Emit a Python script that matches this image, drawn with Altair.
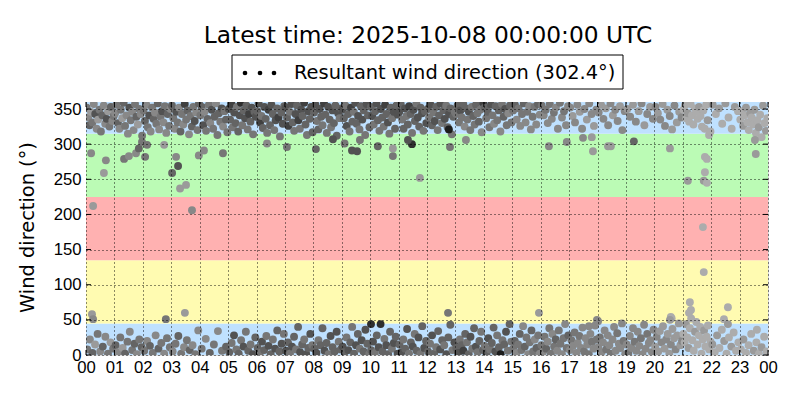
import altair as alt
import pandas as pd

# ---------------- data ----------------
title_text = "Latest time: 2025-10-08 00:00:00 UTC"
legend_text = "Resultant wind direction (302.4°)"
y_title_text = "Wind direction (°)"

band_lo = [0, 45, 135, 225, 315]
band_hi = [45, 135, 225, 315, 360]
band_col = ["#bfe1ff", "#fffbb1", "#ffb1b1", "#bbfbb5", "#bfe1ff"]

x_ticks = list(range(25))
y_ticks = [0, 50, 100, 150, 200, 250, 300, 350]

# dense northerly cluster (dir/shade), one string per hour
top_00_05 = [
    "352/5 338/6 327/4 346/7 331/5 357/6 343/3 322/6 335/7 349/5 318/5 341/4 355/6 329/6 336/3 347/7 325/5 353/4 333/6 340/5",
    "344/6 356/5 330/4 322/6 349/5 337/7 359/4 326/5 341/6 315/6 352/3 334/5 346/6 320/6 357/5 339/4 328/7 350/5 343/6 312/5",
    "348/5 333/4 356/6 324/5 341/3 318/6 352/5 336/4 345/6 329/5 358/4 321/6 339/5 347/3 331/6 354/5 316/6 343/4 326/5 350/6",
    "355/4 337/5 322/6 346/3 331/5 352/6 318/4 343/5 328/6 357/2 335/5 348/4 314/6 340/5 325/4 353/5 333/3 345/6 320/5 358/4",
    "341/5 353/4 327/3 346/6 319/5 336/4 356/5 330/6 349/3 322/5 339/4 358/6 313/5 344/4 332/5 351/3 325/6 347/5 335/4 317/5",
    "350/3 335/4 357/2 324/5 345/3 330/4 353/5 318/4 341/3 359/1 327/5 348/4 337/3 355/4 321/5 343/2 332/4 352/3 314/5 346/4 339/3",
]
top_06_11 = [
    "347/4 358/3 331/2 340/5 323/4 353/3 336/4 316/5 349/2 327/4 356/3 343/4 320/5 334/3 351/4 338/2 311/5 345/4 329/3 354/4",
    "352/3 338/4 326/2 346/5 357/3 331/4 319/5 343/3 355/4 334/2 322/5 349/3 340/4 359/2 328/4 313/5 347/3 336/4 353/3 317/4",
    "345/4 356/3 333/5 321/4 350/3 339/4 327/5 358/2 342/4 316/5 353/3 335/4 324/5 348/3 330/4 355/4 312/4 344/3 337/5 351/4",
    "349/3 337/4 355/5 326/3 343/4 318/5 352/2 332/4 346/5 359/3 329/4 340/3 321/5 354/4 335/3 348/4 313/5 357/3 341/4 324/4",
    "353/4 340/3 328/5 347/4 358/3 334/4 319/5 350/3 338/4 325/5 356/2 343/4 331/3 315/5 352/4 337/5 346/3 322/4 355/4 342/3",
    "346/3 357/4 335/5 322/4 351/3 340/5 328/4 354/2 343/4 316/5 349/3 333/4 358/5 338/3 325/4 352/4 344/3 319/5 347/4 330/3",
]
top_12_17 = [
    "350/4 338/5 356/3 327/4 345/5 333/3 353/4 320/5 341/4 358/3 330/5 348/4 336/3 355/5 324/4 343/3 351/4 314/5 339/4 346/5",
    "343/5 355/4 331/5 348/3 338/5 357/4 325/6 351/4 335/5 346/3 320/5 353/5 340/4 328/5 356/4 344/5 332/4 349/5 317/6 359/2",
    "352/4 337/5 346/4 324/5 356/3 341/5 329/6 354/4 334/5 348/4 318/6 357/5 339/4 350/3 327/5 344/6 355/4 331/5",
    "348/5 356/4 335/6 351/5 326/6 343/5 358/4 331/6 346/5 354/6 321/6 339/5 353/5 328/6 357/4 342/6",
    "355/5 341/6 349/5 330/6 357/5 336/6 345/5 352/6 322/6 359/5 338/6 347/5 327/6 354/6",
    "352/6 340/7 331/6 356/6 346/7 322/6 350/6 335/7 358/6 343/6 326/7 349/6",
]
top_18_23 = [
    "345/6 356/7 336/6 351/7 327/6 358/6 341/7 349/6 333/6 354/7 320/6 347/6",
    "350/7 339/6 356/7 332/6 347/7 358/6 327/7 343/6 353/7 336/6",
    "353/6 344/7 335/6 357/7 326/6 349/7 340/6 321/7 355/6 331/7 346/7 338/6",
    "349/8 355/8 337/8 344/7 332/8 357/8 341/8 328/8 351/8 346/8 336/8 353/7 340/8 325/8 348/8 322/8 356/8 334/7 313/8 318/8",
    "356/7 343/8 351/7 329/8 358/7 338/8 322/8 353/7 347/8",
    "335/8 347/8 326/7 341/8 352/7 331/8 320/8 344/7 338/8 328/8 349/7 316/8 334/8 324/7 342/8 310/8 355/7 330/8 319/7 337/8",
]

# dense north-north-easterly cluster near 0 deg
low_00_05 = [
    "8/5 22/6 3/4 15/7 30/5 5/6 12/4 26/6 2/5 18/7 9/5",
    "14/4 4/6 25/5 10/7 2/4 19/5 33/6 7/5 16/4 1/6 22/5 11/4",
    "6/5 20/6 13/4 3/5 28/6 9/4 17/5 2/6 24/5 11/5",
    "5/6 16/5 27/4 2/5 11/6 21/5 7/4 14/6 1/5 35/6",
    "9/5 23/6 3/4 15/5 34/6 6/5 12/4",
    "4/4 17/5 28/3 8/5 2/4 21/5 12/3 33/5 6/4 15/5 1/3 25/4",
]
low_06_11 = [
    "10/4 3/5 19/3 7/4 27/5 13/3 1/4 22/5 9/3 35/4 5/4 16/3 30/5",
    "6/3 18/4 2/5 12/3 26/4 8/5 40/4 4/3 15/4 22/5 1/3 10/4 30/3 14/5",
    "9/4 3/3 21/5 14/4 38/4 6/3 17/4 1/5 27/3 11/4 5/4 33/3 19/5 8/4",
    "12/3 4/4 25/5 7/3 18/4 40/5 2/4 14/3 30/4 9/5 21/3 5/4 36/3 16/4 1/5",
    "7/4 19/3 3/5 28/4 11/3 44/1 5/4 23/5 14/3 1/4 33/4 9/5 17/3 26/4 2/3",
    "15/4 4/3 22/5 9/4 37/3 2/5 18/4 12/3 30/5 6/4 25/3 1/5 41/4 10/3 20/4",
]
low_12_17 = [
    "5/4 16/5 28/3 2/4 11/5 34/4 8/3 21/4 14/5 1/3 25/4 43/4 7/5 18/3",
    "10/4 3/3 22/5 14/4 6/2 30/4 18/5 1/4 26/3 9/5 38/4 12/3 4/5 20/4 33/5 7/4",
    "13/5 2/4 24/3 8/5 17/4 39/4 5/3 28/5 11/4 1/0 21/5 15/4 33/3 6/5 44/4 19/5",
    "9/5 20/4 3/6 15/5 30/4 7/5 41/6 12/4 25/5 1/6 18/5 35/4 5/5 22/6 10/4 28/5 2/6",
    "14/5 4/6 26/5 9/4 19/6 38/5 2/5 30/6 12/5 22/4 6/6 35/5 16/5 1/6 24/5 44/6 10/5 28/4",
    "7/6 21/5 13/6 32/5 3/6 17/6 27/5 10/6 39/6 5/5 24/6 15/6 1/5 30/6 19/5 9/6 42/6 22/5",
]
low_18_23 = [
    "11/6 25/5 4/6 18/6 35/6 8/5 28/6 14/6 2/5 22/6 40/6 6/6 31/5 16/6 10/6 45/6 20/5 1/6",
    "15/6 3/5 27/6 10/6 38/6 19/5 6/6 33/6 13/6 24/5 1/6 43/6 9/6 30/5 17/6 21/6 4/6 36/6",
    "12/7 26/6 5/7 34/7 18/6 41/7 9/7 22/6 30/7 2/7 15/6 37/7 24/7 8/6 28/7 45/7 14/7 20/6",
    "30/8 18/8 44/7 25/8 10/7 38/8 52/8 21/8 6/8 33/7 47/8 15/8 28/8 40/8 2/8 22/8 35/7 12/8 26/8 42/8 8/8 19/8",
    "15/7 4/8 28/7 10/8 36/8 20/7 2/8 25/8 12/7 32/8 6/8 18/8",
    "8/8 22/7 3/8 14/8 30/8 6/7 18/8 2/8 11/7 26/8 5/8",
]

# isolated readings: time (h), direction (deg), shade
out_time = [0.18, 0.70, 0.63, 0.25, 0.21, 0.25, 1.34, 1.51, 1.76, 2.08, 1.86, 2.15, 1.97,
            2.75, 3.17, 3.24, 3.03, 3.31, 3.52, 3.73, 3.97, 4.15, 4.82, 6.37, 7.07, 2.81, 3.48,
            8.09, 8.69, 9.10, 9.36, 9.54, 9.64, 10.27, 10.80, 10.80, 11.75, 11.47, 12.77, 12.81,
            13.37, 11.33, 12.74, 10.03,
            16.29, 16.92, 17.49, 17.80, 17.84, 18.37, 18.47, 19.28, 20.55, 21.78, 21.85, 21.78,
            21.18, 21.74, 21.85, 23.57, 23.54, 21.71, 21.74, 15.94, 17.98, 18.02, 17.70, 20.58,
            20.61, 20.55, 21.22, 21.25, 21.29, 22.59, 22.45, 22.59, 23.61]
out_dir = [287, 277, 259, 212, 58, 51, 279, 283, 287, 282, 294, 299, 303,
           299, 282, 269, 259, 237, 242, 206, 284, 291, 287, 301, 296, 51, 60,
           293, 307, 301, 291, 290, 306, 297, 294, 283, 252, 300, 321, 296,
           306, 306, 60, 44,
           297, 303, 309, 310, 290, 297, 297, 304, 294, 282, 279, 260,
           248, 248, 245, 286, 306, 182, 118, 60, 50, 48, 41, 54,
           52, 50, 60, 75, 64, 68, 51, 44, 36]
out_shade = [6, 6, 7, 7, 7, 6, 5, 6, 6, 5, 4, 5, 5,
             7, 6, 3, 4, 7, 7, 6, 6, 6, 5, 6, 5, 5, 7,
             4, 3, 5, 3, 3, 5, 4, 7, 5, 7, 1, 0, 5,
             6, 3, 5, 1,
             6, 6, 6, 7, 7, 7, 7, 4, 7, 8, 8, 8,
             7, 7, 8, 7, 7, 8, 8, 7, 6, 6, 6, 8,
             8, 7, 8, 8, 8, 8, 8, 7, 8]


# ---------------- build tables ----------------
def gray(k):
    v = 28 + 18 * int(k)
    return "#{0:02x}{0:02x}{0:02x}".format(v)


rows = []
for group in (top_00_05 + top_06_11 + top_12_17 + top_18_23,
              low_00_05 + low_06_11 + low_12_17 + low_18_23):
    for h, s in enumerate(group):
        toks = s.split()
        n = len(toks)
        for i, tok in enumerate(toks):
            d, k = tok.split("/")
            rows.append({"t": h + (i + 0.5) / n, "dir": float(d), "col": gray(k)})
for t, d, k in zip(out_time, out_dir, out_shade):
    rows.append({"t": t, "dir": float(d), "col": gray(k)})
pts = pd.DataFrame(rows)

bands = pd.DataFrame({"lo": band_lo, "hi": band_hi, "c": band_col,
                      "x0": [0] * 5, "x1": [24] * 5})
xt = pd.DataFrame({"h": x_ticks})
yt = pd.DataFrame({"d": y_ticks})
one = pd.DataFrame({"k": [0]})

W, H = 682, 253
FONT = "DejaVu Sans"

xscale = alt.Scale(domain=[0, 24], nice=False, zero=False)
yscale = alt.Scale(domain=[0, 360], nice=False, zero=False)

x_axis = alt.Axis(values=x_ticks, title=None, tickSize=0, domain=False,
                  labelExpr="(datum.value % 24 < 10 ? '0' : '') + (datum.value % 24)",
                  labelFontSize=16.7, labelPadding=4, labelFlush=False,
                  grid=True, gridDash=[1, 3], gridColor="black", gridOpacity=0.9,
                  zindex=1)
y_axis = alt.Axis(values=y_ticks, title=None, tickSize=0, domain=False,
                  labelFontSize=16.7, labelPadding=5,
                  grid=True, gridDash=[1, 3], gridColor="black", gridOpacity=0.9,
                  zindex=1)


def X(field):
    return alt.X(field, scale=xscale, axis=x_axis, title=None)


def Y(field):
    return alt.Y(field, scale=yscale, axis=y_axis, title=None)


band_layer = alt.Chart(bands).mark_rect().encode(
    x=X("x0:Q"), x2="x1:Q", y=Y("lo:Q"), y2="hi:Q",
    color=alt.Color("c:N", scale=None),
)

point_layer = alt.Chart(pts).mark_circle(size=62, opacity=1, clip=True).encode(
    x=X("t:Q"), y=Y("dir:Q"),
    color=alt.Color("col:N", scale=None),
)

xtick_bot = alt.Chart(xt).mark_rule(color="black", strokeWidth=1).encode(
    x=X("h:Q"), y=alt.value(H - 5), y2=alt.value(H))
xtick_top = alt.Chart(xt).mark_rule(color="black", strokeWidth=1).encode(
    x=X("h:Q"), y=alt.value(0), y2=alt.value(5))
ytick_l = alt.Chart(yt).mark_rule(color="black", strokeWidth=1).encode(
    y=Y("d:Q"), x=alt.value(0), x2=alt.value(5))
ytick_r = alt.Chart(yt).mark_rule(color="black", strokeWidth=1).encode(
    y=Y("d:Q"), x=alt.value(W - 5), x2=alt.value(W))

title_layer = alt.Chart(one).mark_text(
    text=title_text, font=FONT, fontSize=23.3, align="center", baseline="alphabetic",
    color="black").encode(x=alt.value(W / 2 + 1), y=alt.value(-59))

y_title_layer = alt.Chart(one).mark_text(
    text=y_title_text, font=FONT, fontSize=19.4, align="center", baseline="middle",
    angle=270, color="black").encode(x=alt.value(-58), y=alt.value(H / 2 - 1))

legend_box = alt.Chart(one).mark_rect(
    fill="white", stroke="black", strokeWidth=1).encode(
    x=alt.value(146), x2=alt.value(537), y=alt.value(-47), y2=alt.value(-13))
legend_dots = alt.Chart(pd.DataFrame({"px": [159, 174, 188]})).mark_circle(
    size=22, color="black", opacity=1).encode(
    x=alt.X("px:Q", scale=None, axis=None), y=alt.value(-29))
legend_label = alt.Chart(one).mark_text(
    text=legend_text, font=FONT, fontSize=19.4, align="left", baseline="alphabetic",
    color="black").encode(x=alt.value(208), y=alt.value(-23))

chart = alt.layer(
    band_layer, point_layer, xtick_bot, xtick_top, ytick_l, ytick_r,
    title_layer, y_title_layer, legend_box, legend_dots, legend_label,
).properties(
    width=W, height=H,
    autosize=alt.AutoSizeParams(type="none"),
    padding={"left": 78, "top": 94, "right": 24, "bottom": 37},
).configure_view(
    stroke="black", strokeWidth=1.2,
).configure_axis(
    labelFont=FONT, labelColor="black", labelFontSize=16.7,
).configure(background="white")

chart.save("out.html", embed_options={"renderer": "svg", "actions": False})
